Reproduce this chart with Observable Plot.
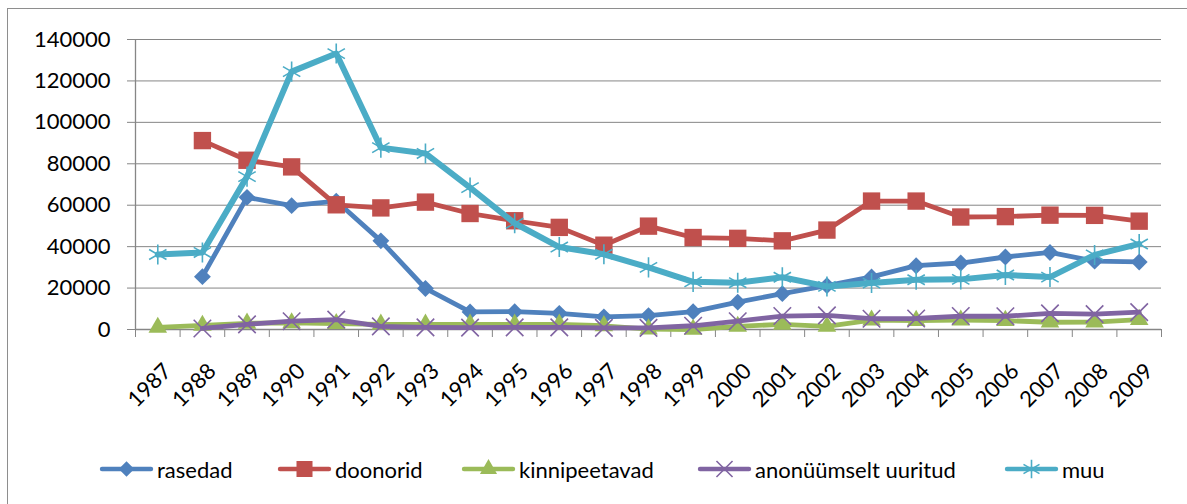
<!DOCTYPE html>
<html><head><meta charset="utf-8">
<script src="https://cdn.jsdelivr.net/npm/d3@7"></script>
<script src="https://cdn.jsdelivr.net/npm/@observablehq/plot@0.6"></script>
<style>
html,body{margin:0;padding:0;background:#fff;overflow:hidden;width:1187px;height:504px;}
#wrap{position:relative;width:1187px;height:504px;font-family:Lato,"Open Sans",sans-serif;overflow:hidden;}
#border{position:absolute;left:7px;top:8px;width:1400px;height:700px;border:1px solid #8e8e8e;box-sizing:border-box;pointer-events:none;}
#chart{position:absolute;left:0;top:0;}
.item{position:absolute;top:457px;display:flex;align-items:center;height:24px;font-size:22px;color:#000;white-space:nowrap;}
.item svg{display:block;margin-right:4px;overflow:visible;}
</style></head>
<body><div id="wrap"><div id="chart"></div><div id="legend"></div><div id="border"></div></div>
<script>
// ---- data ----
const years = [1987,1988,1989,1990,1991,1992,1993,1994,1995,1996,1997,1998,1999,2000,2001,2002,2003,2004,2005,2006,2007,2008,2009];
const rasedad = [null,25500,63800,59800,62000,42800,19800,8500,8600,7800,6100,6700,8600,13200,17300,21200,25400,30800,32100,35000,37200,33000,32600];
const doonorid = [null,91200,81700,78500,60200,58700,61500,56000,52500,49300,40700,49900,44400,44000,42800,48000,62000,62000,54300,54500,55200,55100,52300];
const kinnipeetavad = [1000,2000,3000,3200,2800,2500,2500,2500,2500,2500,1800,200,0,1500,2500,1500,4500,4300,4500,4300,3500,3600,4800];
const anonyymselt = [null,500,2500,4000,4800,1500,1000,900,1000,1000,800,800,1800,4000,6500,6800,5200,5300,6500,6400,7800,7400,8400];
const muu = [36200,37200,73800,124500,133200,87800,85000,68500,51300,39800,36300,30000,23000,22600,25200,20800,22400,24000,24200,26300,25300,36000,41300];
const seriesNames = ["rasedad","doonorid","kinnipeetavad","anonüümselt uuritud","muu"];
const yTicks = [0,20000,40000,60000,80000,100000,120000,140000];

// ---- styles ----
const seriesValues = [rasedad, doonorid, kinnipeetavad, anonyymselt, muu];
const seriesColors = ["#4F81BD","#C0504D","#9BBB59","#8064A2","#4BACC6"];
const seriesSymbols = ["diamond2","square","triangle","times","asterisk"];
const d3Symbols = [d3.symbolDiamond2, d3.symbolSquare, d3.symbolTriangle, d3.symbolTimes, d3.symbolAsterisk];
const seriesR = [7.6, 9.8, 6.9, 8, 9.5];
const seriesFilled = [true, true, true, false, false];
const seriesLineW = [4.8, 4.8, 4.8, 4.8, 6];
const legendLeft = [100, 278, 462, 698, 1005];

const grid = "#868686";
const xBounds = years.map(y => y - 0.5).concat([years[years.length - 1] + 0.5]);

const marks = [
  Plot.gridY({ticks: yTicks, stroke: grid, strokeOpacity: 1, strokeWidth: 1}),
  Plot.ruleX([xBounds[0]], {stroke: grid, strokeWidth: 1.3}),
  Plot.ruleY([0], {stroke: grid, strokeWidth: 1.3}),
  Plot.axisY({ticks: yTicks, tickSize: 8, tickPadding: 17, tickFormat: d => String(d), stroke: grid, fill: "#000", label: null}),
  Plot.axisX({ticks: xBounds, tickSize: 8, tickFormat: () => "", stroke: grid, label: null}),
  Plot.text(years, {x: d => d, y: () => 0, text: d => String(d), rotate: -45, textAnchor: "end", lineAnchor: "middle", dx: 10, dy: 38, fill: "#000"})
];

seriesValues.forEach((vals, k) => {
  const rows = years.map((yr, i) => ({year: yr, value: vals[i]})).filter(d => d.value != null);
  marks.push(Plot.line(rows, {x: "year", y: "value", stroke: seriesColors[k], strokeWidth: seriesLineW[k], strokeLinejoin: "round", strokeLinecap: "round"}));
  marks.push(Plot.dot(rows, seriesFilled[k]
    ? {x: "year", y: "value", symbol: () => seriesSymbols[k], r: seriesR[k], fill: seriesColors[k], stroke: "none"}
    : {x: "year", y: "value", symbol: () => seriesSymbols[k], r: seriesR[k], fill: "none", stroke: seriesColors[k], strokeWidth: 1.6}));
});

const chart = Plot.plot({
  width: 1187,
  height: 440,
  marginLeft: 135,
  marginRight: 26,
  marginTop: 39,
  marginBottom: 111,
  x: {type: "linear", domain: [xBounds[0], xBounds[xBounds.length - 1]], axis: null, label: null},
  y: {type: "linear", domain: [0, 140000], axis: null, label: null},
  symbol: {type: "identity"},
  style: {fontFamily: "Lato, 'Open Sans', sans-serif", fontSize: "22px", color: "#000", background: "transparent", overflow: "visible"},
  marks
});
document.getElementById("chart").appendChild(chart);

// ---- legend ----
const legend = document.getElementById("legend");
const ns = "http://www.w3.org/2000/svg";
seriesNames.forEach((name, k) => {
  const item = document.createElement("div");
  item.className = "item";
  item.style.left = legendLeft[k] + "px";
  const svg = document.createElementNS(ns, "svg");
  svg.setAttribute("width", 53); svg.setAttribute("height", 24);
  const line = document.createElementNS(ns, "line");
  line.setAttribute("x1", 2); line.setAttribute("x2", 51);
  line.setAttribute("y1", 12); line.setAttribute("y2", 12);
  line.setAttribute("stroke", seriesColors[k]);
  line.setAttribute("stroke-width", 4.4);
  line.setAttribute("stroke-linecap", "round");
  svg.appendChild(line);
  const p = document.createElementNS(ns, "path");
  p.setAttribute("d", d3.symbol(d3Symbols[k], Math.PI * seriesR[k] * seriesR[k] * 0.85)());
  p.setAttribute("transform", "translate(26.5,12)");
  if (seriesFilled[k]) { p.setAttribute("fill", seriesColors[k]); }
  else { p.setAttribute("fill", "none"); p.setAttribute("stroke", seriesColors[k]); p.setAttribute("stroke-width", 1.6); }
  svg.appendChild(p);
  item.appendChild(svg);
  const span = document.createElement("span");
  span.textContent = name;
  item.appendChild(span);
  legend.appendChild(item);
});
</script>
</body></html>
